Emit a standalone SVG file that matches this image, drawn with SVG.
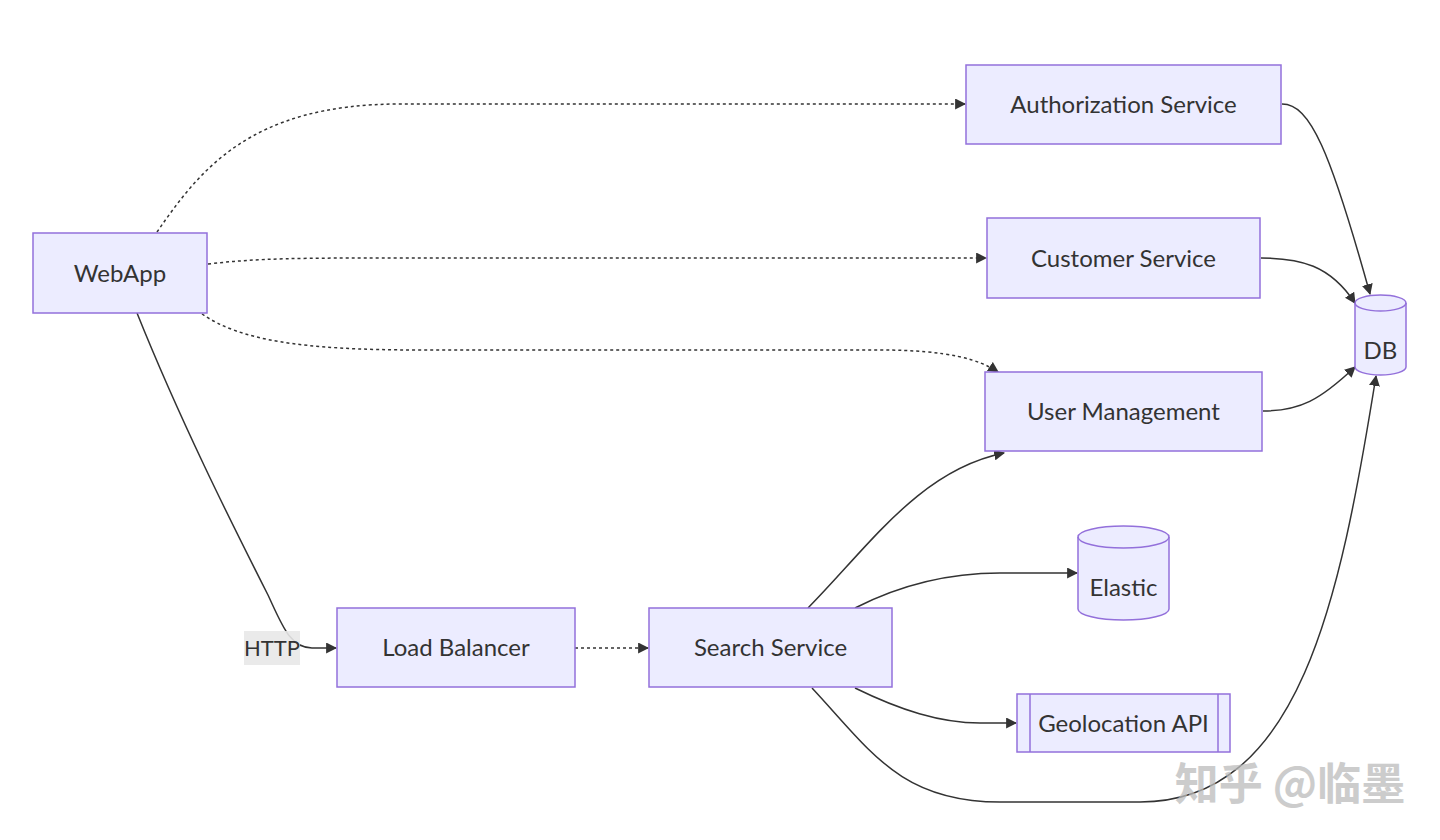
<svg xmlns="http://www.w3.org/2000/svg" width="1440" height="840" viewBox="0 0 1440 840">
<style>
.box{fill:#ECECFF;stroke:#9370DB;stroke-width:1.5}
.lbl{font-family:Lato,"Open Sans","Liberation Sans",sans-serif;font-size:24px;fill:#333;text-anchor:middle;dominant-baseline:central}
.e{fill:none;stroke:#333;stroke-width:1.5}
.d{stroke-dasharray:3,3}
</style>
<defs>
<marker id="ah" viewBox="0 0 10 10" refX="9" refY="5" markerWidth="11" markerHeight="11" orient="auto" markerUnits="userSpaceOnUse">
<path d="M0,0 L10,5 L0,10 z" fill="#333"/>
</marker>
</defs>
<rect width="1440" height="840" fill="#fff"/>
<g id="edges">
<path class="e d" d="M157,232 C200,170 250,104 400,104 L965,104" marker-end="url(#ah)"/>
<path class="e d" d="M208,264 C260,258 300,258 400,258 L986,258" marker-end="url(#ah)"/>
<path class="e d" d="M202,314 C240,340 300,350 420,350 L880,350 C950,350 980,360 998,372" marker-end="url(#ah)"/>
<path class="e" d="M137,313 C180,420 230,520 268,595 C282,625 290,648 312,648 L336,648" marker-end="url(#ah)"/>
<path class="e d" d="M575,648 L648,648" marker-end="url(#ah)"/>
<path class="e" d="M808,608 C870,545 920,470 1004,453" marker-end="url(#ah)"/>
<path class="e" d="M855,608 C900,585 950,573 1000,573 L1077,573" marker-end="url(#ah)"/>
<path class="e" d="M855,688 C900,710 940,723 980,723 L1016,723" marker-end="url(#ah)"/>
<path class="e" d="M812,688 C870,750 900,802 1000,802 L1140,802 C1300,802 1340,600 1376,376" marker-end="url(#ah)"/>
<path class="e" d="M1282,104 C1310,104 1330,150 1370,294" marker-end="url(#ah)"/>
<path class="e" d="M1261,258 C1300,258 1330,265 1355,303" marker-end="url(#ah)"/>
<path class="e" d="M1263,411 C1300,411 1320,400 1355,367" marker-end="url(#ah)"/>
</g>
<g id="httpLabel">
<rect x="244" y="631" width="56" height="34" fill="#e8e8e8" opacity="0.9"/>
<text class="lbl" x="272" y="647" style="font-size:22px">HTTP</text>
</g>
<g id="WebApp"><rect class="box" x="33" y="233" width="174" height="80"/><text class="lbl" x="120" y="272">WebApp</text></g>
<g id="Auth"><rect class="box" x="966" y="65" width="315" height="79"/><text class="lbl" x="1123.5" y="103.5">Authorization Service</text></g>
<g id="Customer"><rect class="box" x="987" y="218" width="273" height="80"/><text class="lbl" x="1123.5" y="257">Customer Service</text></g>
<g id="UserMgmt"><rect class="box" x="985" y="372" width="277" height="79"/><text class="lbl" x="1123.5" y="410.5">User Management</text></g>
<g id="LoadBalancer"><rect class="box" x="337" y="608" width="238" height="79"/><text class="lbl" x="456" y="646.5">Load Balancer</text></g>
<g id="Search"><rect class="box" x="649" y="608" width="243" height="79"/><text class="lbl" x="770.5" y="646.5">Search Service</text></g>
<g id="DB">
<path class="box" d="M1355,303 A25.5,8 0 0 1 1406,303 L1406,367 A25.5,8 0 0 1 1355,367 Z"/>
<path class="box" style="fill:none" d="M1355,303 A25.5,8 0 0 0 1406,303"/>
<text class="lbl" x="1380.5" y="349">DB</text>
</g>
<g id="Elastic">
<path class="box" d="M1078,537 A45.5,11 0 0 1 1169,537 L1169,609 A45.5,11 0 0 1 1078,609 Z"/>
<path class="box" style="fill:none" d="M1078,537 A45.5,11 0 0 0 1169,537"/>
<text class="lbl" x="1123.5" y="586">Elastic</text>
</g>
<g id="Geo">
<rect class="box" x="1017" y="694" width="213" height="58"/>
<line class="box" x1="1030" y1="694" x2="1030" y2="752"/>
<line class="box" x1="1218" y1="694" x2="1218" y2="752"/>
<text class="lbl" x="1123.5" y="722">Geolocation API</text>
</g>
<g id="watermark">
<text x="1290" y="781" text-anchor="middle" dominant-baseline="central" font-family="'Noto Sans CJK SC',sans-serif" font-size="44" font-weight="bold" fill="#bbb" opacity="0.75">知乎 @临墨</text>
</g>
</svg>
